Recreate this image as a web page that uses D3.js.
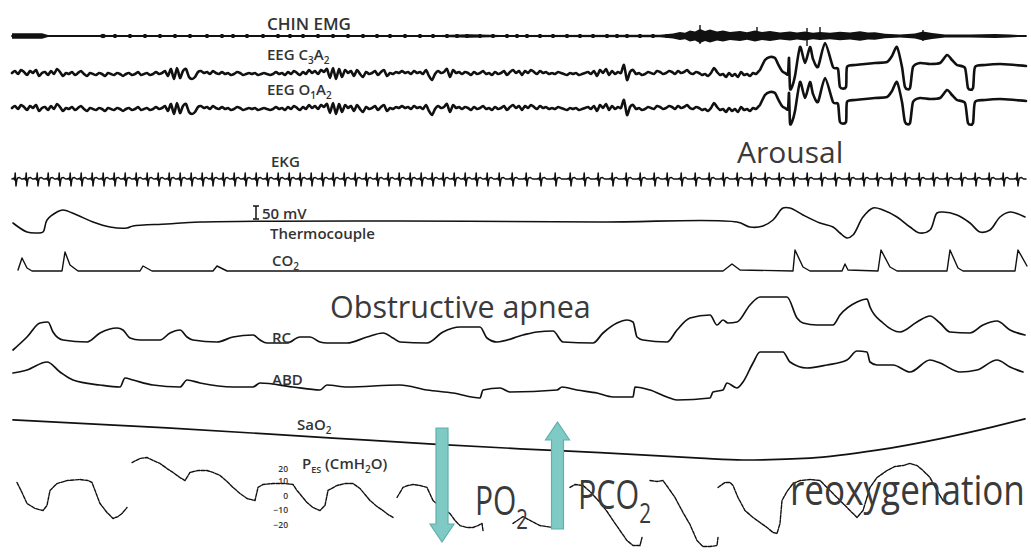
<!DOCTYPE html>
<html>
<head>
<meta charset="utf-8">
<script src="https://cdn.jsdelivr.net/npm/d3@7/dist/d3.min.js"></script>
<style>
  body { margin: 0; background: #fff; }
  svg { display: block; }
  .trace { fill: none; stroke: #111; stroke-linejoin: round; stroke-linecap: round; }
  .lbl { font-family: "Open Sans", sans-serif; font-size: 15px; font-weight: 600; fill: #333; }
  .big { font-family: "Open Sans", sans-serif; fill: #3a3a3a; }
  .arrow { fill: #7fcac5; stroke: #5fb0ab; stroke-width: 1.2; }
</style>
</head>
<body>
<svg id="chart" width="1031" height="556"></svg>
<script>
// time axis in seconds; traces are amplitude offsets from each channel's baseline

// EEG (C3A2 and O1A2 look identical), background part sampled every 0.3 s
const eegStart = 1.2, eegStep = 0.3;
const eegLeft = [
  1, 3, 0, 4, 2, -1, 3, 1, 4, -2,
  1, 2, -1, 3, 0, 5, 2, -2, 1, 0,
  2, -1, 1, 3, 0, -2, 1, 0, -1, 1,
  0, -2, 1, 0, -1, 1, 0, -2, 0, 1,
  -1, 0, 2, -1, 0, 1, -1, 0, 2, 0,
  1, 3, -2, 5, -5, 6, -4, 3, 5, -3,
  -5, -3, 2, 3, 1, 2, 0, 3, 1, 0,
  2, 0, 1, -1, 0, 2, 1, -1, 0, 1,
  0, 1, -1, 0, 1, 0, -1, 0, 2, 0,
  1, -1, 2, 0, 3, 1, -1, 2, 0, 4,
  1, 3, 0, 4, 2, 5, -4, 6, -5, 5,
  -3, 4, 1, 3, -2, 4, 0, -3, 2, 0,
  1, 3, -1, 2, 4, -2, 1, 0, 2, 1,
  3, 1, 2, 0, 3, 1, 2, 0, 4, -2,
  -6, 0, 3, 1, 2, 5, -3, 4, 1, 2,
  0, 2, 1, -1, 2, 0, 1, 3, 0, 1,
  -1, 2, 0, 1, 3, -1, 2, 4, 1, 3,
  -1, 3, 1, 4, 2, 0, 3, 1, 2, 0,
  1, 0, 2, 1, 0, -1, 1, 0, 1, -1,
  0, 1, 2, 0, 3, -2, 4, 1, 5, -1,
  3, 0, 2, 1, 9, -6, 2, 4, 0, 1,
  -1, 0, 2, 1, 0, 3, 2, 0, 1, 3,
  2, 0, 3, 1, 2, 4, 1, 0, 2, 1,
  -1, 0, -2, 1, 6, 2, -1, 0, -3, 1,
  -2, 0, -3, 2, -1, 0, -2, 1, 0, 3
];
// arousal: slow high waves
const eegArousal = [
  [76.0, 4], [76.5, 14], [77.0, 17], [77.5, 16], [77.8, 10], [78.2, 3], [78.5, 1], [78.8, 0],
  [78.9, 16], [79.0, -14], [79.2, -13], [79.5, -2], [80.0, 27], [80.5, 11], [81.0, 27],
  [81.3, 15], [81.8, 7], [82.5, 31], [83.3, 7], [83.8, 5], [84.0, -13], [84.6, -13], [84.7, 7],
  [85.5, 9], [86.5, 10], [87.5, 11], [88.7, 12], [89.2, 18], [89.7, 27], [90.2, 7], [90.5, -13],
  [91.0, -14], [91.3, 7], [92.0, 11], [93.0, 10], [94.0, 11], [94.7, 19], [95.2, 14], [95.7, 9],
  [96.5, 6], [96.8, -14], [97.3, -14], [97.5, 7], [98.5, 9], [100.0, 10], [101.5, 9], [102.6, 8]
];

// chin EMG: half thickness of the band, and isolated bursts [t, up, down]
const emgEnvelope = [
  [1.2, 2.8], [4.2, 2.8], [4.8, 1.1], [10.0, 1.1], [10.3, 2.2], [10.6, 1.1], [44.0, 1.1],
  [47.0, 1.8], [50.0, 1.1], [66.0, 1.2], [67.3, 2.5], [68.0, 4], [68.5, 3.2], [69.0, 5.5],
  [69.5, 4.5], [70.0, 7], [70.5, 5], [71.0, 6.5], [71.7, 4.5], [72.3, 5.5], [73.0, 4],
  [74.0, 5], [74.7, 3.8], [75.5, 5.5], [76.2, 4], [77.0, 5], [78.0, 3.5], [79.0, 4.5],
  [79.7, 3.5], [80.5, 4.5], [81.3, 3.2], [82.0, 4], [83.0, 3.2], [84.0, 4.2], [85.0, 3.5],
  [86.0, 4.8], [86.8, 3.5], [87.5, 3.8], [88.5, 2.2], [90.0, 1.6], [91.5, 2.5], [92.3, 4.5],
  [93.2, 3], [94.5, 1.6], [97.0, 1.4], [99.5, 2], [101.0, 1.4], [102.5, 0.6]
];
const emgBlips = [
  3.3, 10.3, 11.5, 13.0, 14.5, 16.0, 17.5, 19.0, 20.7, 22.2, 23.3, 24.7, 26.3, 27.8, 29.0,
  30.3, 31.8, 33.3, 34.8, 36.3, 37.7, 39.0, 40.5, 42.0, 43.3, 44.7, 45.7, 46.7, 48.0, 49.3,
  50.7, 51.7, 52.7, 54.0, 55.3, 56.7, 58.0, 59.3, 60.7, 61.7, 62.7, 64.0, 65.3, 66.7
];
const emgSpikes = [[70.0, 11, 8], [75.7, 9, 5], [80.7, 8, 10], [82.0, 9, 4], [92.3, 6, 5]];

// EKG: R-wave times and one beat shape [dt, amplitude]
const ekgBeats = [
  1.5, 2.6, 3.7, 4.8, 5.9, 7.0, 8.1, 9.2, 10.3, 11.4, 12.5, 13.6, 14.7, 15.8, 16.9, 18.0,
  19.1, 20.2, 21.2, 22.3, 23.4, 24.5, 25.6, 26.7, 27.8, 28.9, 30.0, 31.1, 32.2, 33.3, 34.4,
  35.5, 36.6, 37.7, 38.8, 39.9, 41.0, 42.1, 43.2, 44.3, 45.4, 46.5, 47.6, 48.7, 49.9, 51.2,
  52.6, 54.0, 55.5, 57.0, 58.4, 59.8, 61.2, 62.6, 64.0, 65.4, 66.7, 68.1, 69.5, 70.9, 72.3,
  73.7, 75.1, 76.5, 77.9, 79.3, 80.7, 82.1, 83.5, 84.9, 86.3, 87.7, 89.1, 90.5, 91.9, 93.3,
  94.7, 96.1, 97.5, 98.9, 100.3, 101.7
];
const ekgBeat = [[-0.3, 0], [-0.12, 0.8], [-0.04, -1], [0.02, 6], [0.1, -7], [0.18, -1], [0.26, 1], [0.45, 1.5], [0.65, 0]];

const thermo = [
  [1.3, -1], [2.7, -10], [3.7, -11], [4.3, -10], [4.7, 2], [5.7, 10], [6.3, 12], [7.7, 7],
  [9.3, 0], [11.0, -5], [12.7, -6], [13.3, -4], [16.7, -2], [20.0, 0], [40.0, 1], [60.0, 0],
  [73.7, 0], [75.0, -5], [76.3, -4], [77.3, 2], [78.3, 14], [79.0, 14], [80.3, 7], [82.0, -1],
  [83.3, -5], [84.0, -11], [84.7, -16], [85.3, -13], [86.3, 5], [87.3, 14], [88.3, 12],
  [89.7, 5], [91.0, -5], [92.0, -11], [93.0, -8], [93.7, 9], [94.3, 10], [95.7, 7], [97.0, -1],
  [98.0, -10], [99.0, -8], [100.0, 5], [101.0, 10], [102.5, 5]
];

const co2 = [
  [1.8, 1], [2.2, 13], [2.7, 3], [3.2, 0], [6.2, 0], [6.5, 19], [7.0, 6], [7.8, 0], [14.0, 0],
  [14.3, 5], [15.2, 0], [21.3, 0], [21.7, 5], [22.7, 0], [72.3, 0], [73.2, 7], [74.0, 1],
  [79.3, 0], [79.5, 21], [80.3, 4], [81.0, 0], [84.2, 0], [84.5, 7], [84.8, 1], [87.8, 0],
  [88.1, 21], [89.0, 4], [89.7, 0], [94.7, 0], [95.0, 21], [95.8, 3], [96.3, 0], [101.5, 0],
  [101.8, 21], [102.7, 5]
];

const rc = [
  [1.3, -10], [2.7, 3], [4.0, 17], [4.8, 18], [5.3, 8], [6.3, 0], [8.7, -2], [10.0, 7],
  [11.7, 12], [12.3, 10], [13.0, 2], [14.0, 0], [16.0, 0], [17.0, 7], [18.0, 10], [18.7, 3],
  [19.3, 0], [21.7, -2], [23.3, 3], [25.3, 5], [26.0, 0], [26.7, -3], [28.7, -3], [30.0, 3],
  [31.0, 3], [32.0, -2], [32.7, -3], [34.7, -3], [36.7, 3], [38.3, 7], [39.3, 2], [40.0, -2],
  [42.7, -3], [44.3, 8], [46.0, 13], [48.0, 13], [48.7, 2], [49.7, -2], [52.3, 5], [53.7, 8],
  [55.3, 9], [56.3, -2], [59.3, -3], [60.3, 7], [61.7, 17], [62.7, 20], [63.3, 18], [63.7, 3],
  [64.3, 0], [66.7, -2], [67.7, 10], [69.0, 22], [71.0, 25], [71.7, 15], [72.3, 20], [72.8, 17],
  [73.7, 18], [75.0, 35], [76.0, 43], [78.7, 43], [79.7, 22], [80.3, 17], [81.7, 15], [83.3, 15],
  [84.0, 25], [85.7, 38], [86.7, 41], [87.0, 33], [88.3, 17], [90.0, 8], [91.7, 18], [93.0, 24],
  [94.0, 17], [95.0, 8], [97.0, 7], [98.3, 15], [99.7, 19], [101.0, 10], [102.5, 5]
];

const abd = [
  [1.3, 12], [2.7, 15], [4.7, 23], [6.0, 13], [7.3, 5], [10.0, 0], [12.0, -2], [12.5, 7],
  [13.3, 5], [15.3, 0], [18.0, -2], [18.7, 5], [20.0, 2], [23.3, -2], [25.3, -2], [26.0, 2],
  [29.3, -2], [32.0, -5], [32.7, 0], [34.7, -2], [40.0, 0], [42.7, -5], [45.3, -8], [48.0, -13],
  [48.3, -5], [50.0, -3], [51.0, -7], [55.7, -5], [56.2, -2], [57.7, -5], [59.7, -8], [61.3, -12],
  [63.3, -12], [63.5, -2], [65.0, -5], [66.7, -12], [67.7, -15], [71.0, -13], [71.3, -7],
  [72.3, -5], [72.7, 2], [73.7, -3], [74.3, 3], [75.3, 22], [76.0, 33], [78.3, 33], [79.0, 23],
  [80.7, 17], [82.7, 20], [84.7, 25], [85.7, 34], [86.7, 33], [87.0, 23], [87.7, 20], [89.3, 20],
  [91.0, 13], [93.0, 25], [94.0, 22], [96.0, 13], [97.7, 15], [99.7, 25], [101.0, 18], [102.3, 13]
];

// SaO2 (%)
const sao2 = [
  [1.3, 94.6], [16.7, 92.9], [33.3, 90.7], [43.3, 89.4], [52.0, 88.4], [60.0, 87.6],
  [70.0, 86.4], [74.3, 86.0], [81.0, 86.4], [87.7, 88.1], [94.3, 90.7], [99.3, 93.1], [102.5, 94.8]
];

// esophageal pressure (cmH2O); null = gap in the tracing
const pes = [
  [1.7, 8], [2.2, 1.3], [2.7, -6], [3.5, -9.3], [4.3, -10.7], [4.7, -7.3], [5.0, 2.7], [5.7, 7.3],
  [6.7, 9.3], [8.0, 10], [8.8, 9.3], [9.2, 8], [10.0, -6], [10.7, -12], [11.3, -16], [11.8, -14.7],
  [12.2, -12.7], [12.7, -8.7], null,
  [13.2, 21.3], [14.0, 24], [14.7, 24.7], [15.3, 22.7], [16.0, 20.7], [16.7, 17.3], [17.3, 14.7],
  [18.0, 11.3], [18.5, 9.3], [19.0, 14.7], [19.8, 16], [20.7, 16], [21.3, 14.7], [22.0, 12.7],
  [22.7, 8.7], [23.3, 4.7], [24.0, 0.7], [24.7, -2.7], [25.5, -4], [25.8, 4.7], [26.3, 6.7],
  [27.3, 7.3], [28.5, 7.3], [29.3, 6.7], [29.7, 2.7], [30.2, -1.3], [30.7, -5.3], [31.3, -8.7],
  [32.0, -10.7], [32.5, -7.3], [32.8, 2.7], [33.7, 6], [34.5, 7.3], [35.3, 7.3], [36.0, 4],
  [36.5, 0], [37.0, -4], [37.7, -8], [38.3, -10.7], [38.8, -13.3], [39.3, -15.3], null,
  [39.7, -2], [40.3, 4.7], [40.8, 6], [41.3, 6.7], [42.0, 6], [42.7, 4.7], [43.3, -4], [44.1, -8.7],
  [45.0, -12.7], [45.5, -17.3], [46.0, -20.7], [46.7, -22], [47.3, -22], [47.8, -20.7],
  [48.2, -19.3], [48.3, -24], null,
  [51.3, -19.3], [52.3, -14.7], [53.0, -17.3], [54.0, -20.7], [55.3, -22], null,
  [57.0, 4.7], [57.5, 6.7], [58.3, 6], [59.0, 2], [60.0, -5.3], [60.7, -11.3], [61.3, -17.3],
  [62.0, -24], [62.7, -30.7], [63.3, -34], [64.0, -34], [64.2, -28.7], null,
  [65.0, 9.3], [65.7, 8.7], [66.3, 9.3], [66.8, 4.7], [67.5, -2], [68.3, -12], [69.0, -20],
  [69.7, -30.7], [70.3, -34.7], [71.0, -34.7], [71.7, -34], [71.8, -28.7], null,
  [71.8, 4.7], [72.5, 8], [73.0, 8], [73.3, 6], [73.8, -2], [74.5, -10.7], [75.3, -15.3],
  [76.0, -18.7], [76.7, -22], [77.3, -25.3], [77.7, -26], [78.0, -19.3], [78.2, -4], [78.7, 2],
  [79.3, 7.3], [80.0, 9.3], [81.0, 10], [82.0, 9.3], [83.0, 2.7], [84.3, -6], [85.0, -10.7],
  [85.7, -15.3], [86.3, -10.7], [87.0, 4.7], [87.7, 11.3], [88.7, 16], [89.5, 18.7], [90.3, 19.3],
  [91.0, 20.7], [91.7, 19.3], [92.3, 16], [93.0, 11.3], [93.7, 2.7], [94.3, -4], [95.0, -6]
];
const pesTicks = [20, 10, 0, -10, -20];

const svg = d3.select('#chart');
svg.append('rect').attr('width', 1031).attr('height', 556).attr('fill', '#fff');

const x = d3.scaleLinear().domain([0, 103.1]).range([0, 1031]);
// one unit per pixel around a baseline
const band = base => d3.scaleLinear().domain([-10, 10]).range([base + 10, base - 10]);

const yEmg = band(36), yC3 = band(74), yO1 = band(109), yEkg = band(179),
      yThermo = band(222), yCo2 = band(271), yRc = band(340), yAbd = band(385);
const ySao2 = d3.scaleLinear().domain([86, 95]).range([460, 418]);
const yPes = d3.scaleLinear().domain([-20, 20]).range([524.5, 464.5]);
// the printed scale crowds "20" against "10"
const yPesTicks = d3.scaleLinear().domain([-20, 10, 20]).range([524.5, 481, 469]);

function trace(data, y, width, curve, dash) {
  const line = d3.line()
    .defined(d => d !== null)
    .x(d => x(d[0]))
    .y(d => y(d[1]))
    .curve(curve || d3.curveLinear);
  const p = svg.append('path')
    .datum(data)
    .attr('class', 'trace')
    .attr('stroke-width', width)
    .attr('d', line);
  if (dash) p.attr('stroke-dasharray', dash);
  return p;
}

// CHIN EMG
svg.append('path')
  .datum(emgEnvelope)
  .attr('fill', '#111')
  .attr('d', d3.area()
    .x(d => x(d[0]))
    .y0(d => yEmg(-d[1]))
    .y1(d => yEmg(d[1])));
trace([[1.2, 0], [102.6, 0]], yEmg, 1.8);
svg.append('g').selectAll('line')
  .data(emgBlips)
  .join('line')
  .attr('x1', d => x(d)).attr('x2', d => x(d))
  .attr('y1', yEmg(2)).attr('y2', yEmg(-2))
  .attr('stroke', '#111').attr('stroke-width', 3);
svg.append('g').selectAll('line')
  .data(emgSpikes)
  .join('line')
  .attr('x1', d => x(d[0])).attr('x2', d => x(d[0]))
  .attr('y1', d => yEmg(d[1])).attr('y2', d => yEmg(-d[2]))
  .attr('stroke', '#111').attr('stroke-width', 1.4);

// EEG
const eeg = eegLeft.map((v, i) => [eegStart + i * eegStep, v]).concat(eegArousal);
trace(eeg, yC3, 2.6, d3.curveCardinal.tension(0.3));
trace(eeg, yO1, 2.6, d3.curveCardinal.tension(0.3));

// EKG
const ekg = [[1.2, 0]]
  .concat(ekgBeats.flatMap(b => ekgBeat.map(([dt, v]) => [b + dt, v])))
  .concat([[102.6, 0]]);
trace(ekg, yEkg, 1.5);

trace(thermo, yThermo, 1.6, d3.curveCatmullRom);
trace(co2, yCo2, 1.4);
trace(rc, yRc, 1.7, d3.curveMonotoneX);
trace(abd, yAbd, 1.7, d3.curveMonotoneX);
trace(sao2, ySao2, 1.7, d3.curveMonotoneX);
trace(pes, yPes, 1.4, d3.curveLinear, '3.5 1.3');

// Pes scale numbers
const pesAxis = svg.append('g')
  .attr('transform', 'translate(288,0)')
  .call(d3.axisLeft(yPesTicks).tickValues(pesTicks).tickSize(0).tickPadding(0));
pesAxis.select('.domain').remove();
pesAxis.selectAll('text')
  .attr('font-family', '"Open Sans", sans-serif')
  .attr('font-size', 8.5)
  .attr('font-weight', 600)
  .attr('fill', '#333');

// channel labels
function label(xPos, yPos, parts, size) {
  const t = svg.append('text').attr('class', 'lbl').attr('x', xPos).attr('y', yPos);
  if (size) t.style('font-size', size + 'px');
  parts.forEach(p => {
    if (typeof p === 'string') t.append('tspan').text(p);
    else t.append('tspan').attr('dy', p.dy).style('font-size', (p.size || 10) + 'px').text(p.text);
  });
  return t;
}
label(267, 30, ['CHIN EMG'], 17);
label(267, 60, ['EEG C', {text: '3', dy: 4}, {text: 'A', dy: -4, size: 15}, {text: '2', dy: 4}]);
label(267, 95, ['EEG O', {text: '1', dy: 4}, {text: 'A', dy: -4, size: 15}, {text: '2', dy: 4}]);
label(271, 167, ['EKG']);
label(262, 219, ['50 mV']);
label(270, 239, ['Thermocouple']);
label(272, 266, ['CO', {text: '2', dy: 4}]);
label(272, 343, ['RC']);
label(272, 385, ['ABD']);
label(297, 430, ['SaO', {text: '2', dy: 4}]);
label(302, 469, ['P', {text: 'ES', dy: 4, size: 9}, {text: ' (CmH', dy: -4, size: 15}, {text: '2', dy: 4}, {text: 'O)', dy: -4, size: 15}]);

// 50 mV calibration bar
const cal = svg.append('g').attr('stroke', '#222').attr('stroke-width', 1.6);
cal.append('line').attr('x1', 256).attr('x2', 256).attr('y1', 206).attr('y2', 219);
cal.append('line').attr('x1', 253).attr('x2', 259).attr('y1', 206).attr('y2', 206);
cal.append('line').attr('x1', 253).attr('x2', 259).attr('y1', 219).attr('y2', 219);

// annotations
svg.append('text').attr('class', 'big').attr('x', x(73.7)).attr('y', 163)
  .attr('font-size', 30).text('Arousal');
svg.append('text').attr('class', 'big').attr('x', x(33.0)).attr('y', 318)
  .attr('font-size', 30.5).text('Obstructive apnea');

function arrowPath(t, yFrom, yTip) {
  const cx = x(t), sw = 6, hw = 12, hh = 18;
  const dir = yTip > yFrom ? 1 : -1;
  const yb = yTip - dir * hh;
  return `M${cx - sw},${yFrom}L${cx + sw},${yFrom}L${cx + sw},${yb}L${cx + hw},${yb}` +
    `L${cx},${yTip}L${cx - hw},${yb}L${cx - sw},${yb}Z`;
}
svg.append('path').attr('class', 'arrow').attr('d', arrowPath(44.2, 428, 542));
svg.append('path').attr('class', 'arrow').attr('d', arrowPath(55.75, 529, 422));

// condensed annotation text, squeezed to the printed width
function condensed(t, yBase, size, width, main, sub) {
  const g = svg.append('g');
  const txt = g.append('text').attr('class', 'big').style('font-size', size + 'px');
  txt.append('tspan').text(main);
  if (sub) txt.append('tspan').attr('dy', 14).style('font-size', (size * 0.68) + 'px').text(sub);
  const w = txt.node().getBBox().width;
  g.attr('transform', `translate(${x(t)},${yBase}) scale(${width / w},1)`);
}
condensed(47.5, 515, 40, 53, 'PO', '2');
condensed(57.8, 509, 40, 73, 'PCO', '2');
condensed(79.0, 505, 42, 235, 'reoxygenation');
</script>
</body>
</html>
